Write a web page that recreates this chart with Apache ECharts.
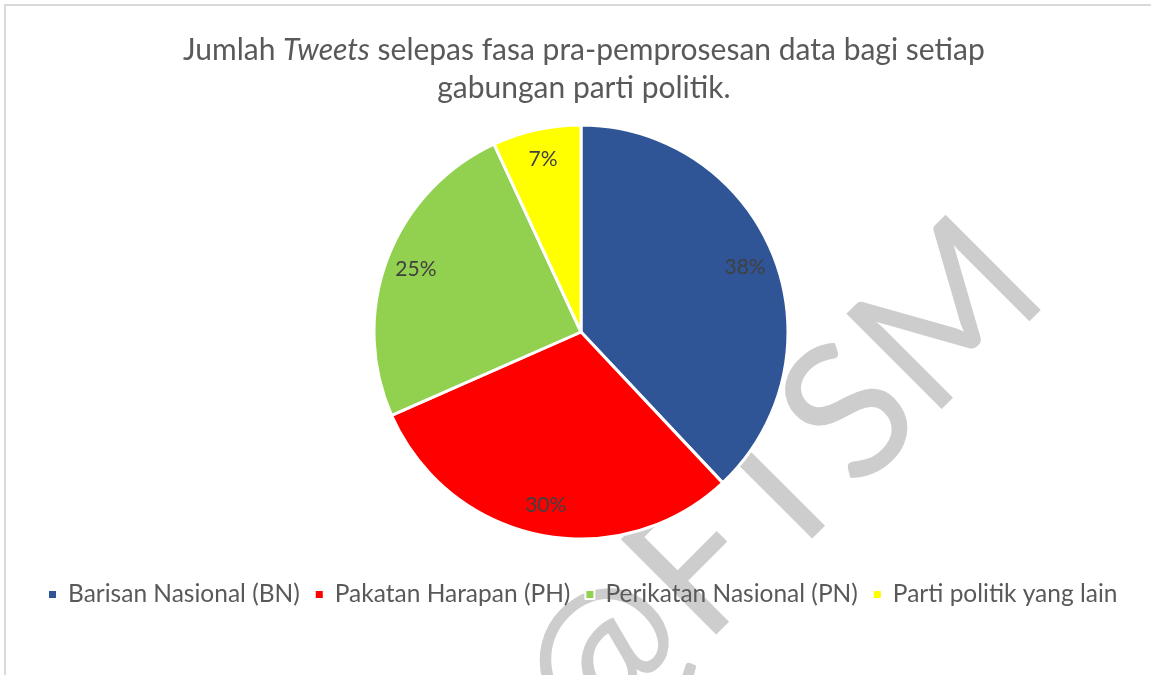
<!DOCTYPE html>
<html>
<head>
<meta charset="utf-8">
<script src="https://cdn.jsdelivr.net/npm/echarts@6/dist/echarts.min.js"></script>
<style>
  html, body { margin: 0; padding: 0; background: #fff; }
  #chart { width: 1151px; height: 675px; }
</style>
</head>
<body>
<div id="chart"></div>
<script>
  // data
  const categories = ['Barisan Nasional (BN)', 'Pakatan Harapan (PH)', 'Perikatan Nasional (PN)', 'Parti politik yang lain']
  const shares = [38, 30.4, 24.7, 6.9]
  const colors = ['#2F5597', '#FF0000', '#92D050', '#FFFF00']

  const font = 'Lato, "Open Sans", sans-serif'
  const pieData = categories.map((name, i) => ({
    name: name,
    value: shares[i],
    itemStyle: { color: colors[i] }
  }))

  let option = {
    backgroundColor: '#fff',
    animation: false,
    title: {
      text: '{a|Jumlah }{i|Tweets}{a| selepas fasa pra-pemprosesan data bagi setiap}\n{a|gabungan parti politik.}',
      left: 178,
      top: 26,
      textStyle: {
        rich: {
          a: { fontFamily: font, fontSize: 30, fontWeight: 'normal', color: '#595959', lineHeight: 38, align: 'center' },
          i: { fontFamily: font, fontSize: 30, fontWeight: 'normal', color: '#595959', fontStyle: 'italic', lineHeight: 38, align: 'center' }
        }
      }
    },
    legend: {
      data: categories,
      left: 42,
      top: 577,
      icon: 'rect',
      itemWidth: 9,
      itemHeight: 9,
      itemGap: 14,
      textStyle: {
        fontFamily: font,
        fontSize: 24.5,
        color: '#595959',
        padding: [0, 0, 0, 6]
      }
    },
    graphic: [
      {
        type: 'rect',
        z: -10,
        shape: { x: 5, y: 5, width: 1300, height: 800 },
        style: { fill: 'none', stroke: '#d9d9d9', lineWidth: 2 }
      },
      {
        // watermark
        type: 'text',
        z: -5,
        x: 1010,
        y: 255,
        rotation: Math.PI / 4,
        style: {
          text: '@FTSM',
          fontFamily: font,
          fontSize: 188,
          fill: '#cdcdcd',
          align: 'right',
          verticalAlign: 'middle'
        }
      }
    ],
    series: [
      {
        type: 'pie',
        center: [581, 332],
        radius: 207,
        startAngle: 90,
        clockwise: true,
        label: { show: false },
        labelLine: { show: false },
        itemStyle: { borderColor: '#fff', borderWidth: 3 },
        emphasis: { disabled: true },
        data: pieData
      },
      {
        type: 'pie',
        center: [581, 332],
        radius: [140, 207],
        startAngle: 90,
        clockwise: true,
        silent: true,
        itemStyle: { color: 'rgba(0,0,0,0)' },
        label: {
          show: true,
          position: 'inside',
          fontFamily: font,
          fontSize: 21,
          color: '#404040',
          formatter: p => Math.round(p.percent) + '%'
        },
        labelLine: { show: false },
        emphasis: { disabled: true },
        data: categories.map((name, i) => ({ name: name, value: shares[i], itemStyle: { color: 'rgba(0,0,0,0)' } }))
      }
    ]
  }

  let chart = echarts.init(document.getElementById('chart'))
  chart.setOption(option)
</script>
</body>
</html>
